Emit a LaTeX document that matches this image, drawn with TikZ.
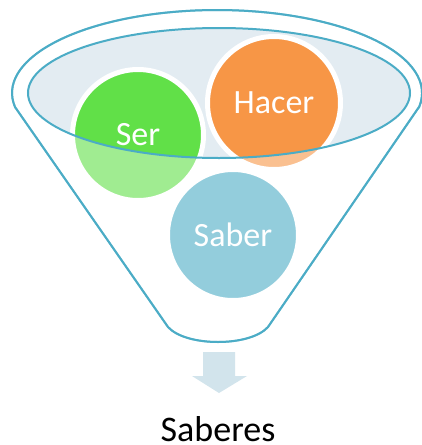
\documentclass[tikz,border=0pt]{standalone}
\usepackage{fontspec}
\setmainfont{Carlito}
\definecolor{teal5}{HTML}{4BACC6}
\definecolor{bowl}{HTML}{E3ECF2}
\definecolor{sergreen}{HTML}{61E048}
\definecolor{haorange}{HTML}{F79646}
\definecolor{arrowblue}{HTML}{D2E4EC}
\tikzset{
  outline/.style={draw=teal5, line width=2pt},
  ball/.style={circle, draw=white, line width=5pt, text=white, inner sep=0pt,
    font=\fontsize{34}{40}\selectfont},
}
\begin{document}
\begin{tikzpicture}[x=1pt,y=1pt]
\useasboundingbox (0,0) rectangle (421,-445);
% funnel body
\path[outline, fill=white] (419,-107) -- (268,-327)
  .. controls (250,-347) and (186,-347) .. (168,-327) -- (15,-107)
  arc[start angle=189.7, end angle=-9.7, x radius=205, y radius=83] -- cycle;
% inner bowl
\fill[bowl] (219,-93) ellipse [x radius=191, y radius=65];
% balls
\node[ball, fill=sergreen, minimum size=131pt] (ser) at (138,-135) {Ser};
\node[ball, fill=haorange, minimum size=133pt] (hacer) at (274,-103) {Hacer};
\node[ball, fill=teal5, minimum size=131pt] (saber) at (233,-235) {Saber};
% front veil (outside the bowl)
\fill[white, opacity=0.4, even odd rule] (0,0) rectangle (421,-445)
  (219,-93) ellipse [x radius=191, y radius=65];
% outlines on top
\draw[outline] (219,-93) ellipse [x radius=191, y radius=65];
\draw[outline] (419,-107) -- (268,-327)
  .. controls (250,-347) and (186,-347) .. (168,-327) -- (15,-107)
  arc[start angle=189.7, end angle=-9.7, x radius=205, y radius=83] -- cycle;
% arrow
\fill[arrowblue] (203,-352) -- (235,-352) -- (235,-376) -- (247,-376)
  -- (219,-393) -- (192,-376) -- (203,-376) -- cycle;
\node[anchor=base, font=\fontsize{36}{42}\selectfont, inner sep=0pt] (saberes) at (218,-441) {Saberes};
\end{tikzpicture}
\end{document}
